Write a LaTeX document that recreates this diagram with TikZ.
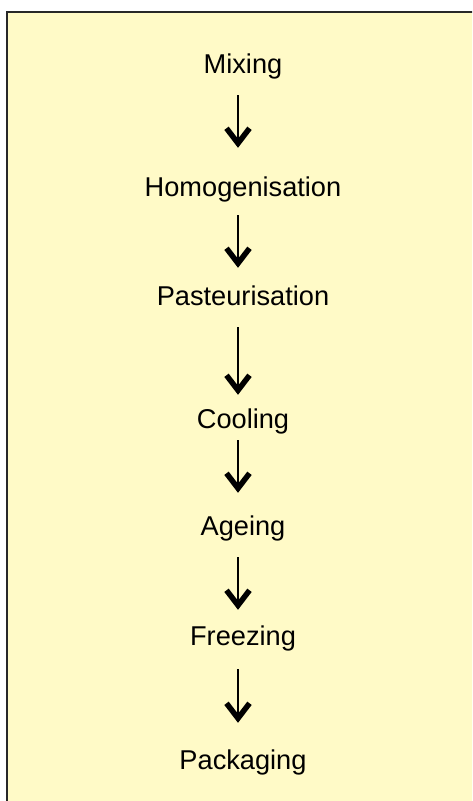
\documentclass[tikz,border=0pt]{standalone}
\usepackage{fontspec}
\setmainfont{Liberation Sans}
\usepackage{xcolor}
\usetikzlibrary{arrows.meta}
\definecolor{paper}{RGB}{255,250,199}
\definecolor{frame}{RGB}{40,40,40}

\begin{document}
\begin{tikzpicture}[x=1pt, y=-1pt,
    stage/.style={anchor=base, inner sep=0pt, text height=19.5pt, text depth=6.5pt,
        font=\fontsize{27.2}{31}\selectfont},
    flow/.style={line width=2.2pt, -{Straight Barb[length=15pt, width=23pt, line width=5.5pt, line join=miter]}}]
            \useasboundingbox (0,0) rectangle (472,801);
            \clip (0,0) rectangle (472,801);
            % Background
            \fill[paper] (7,12) rectangle (480,810);
            \draw[frame, line width=2pt] (7,810) -- (7,12) -- (480,12);
            
            % Stages
            \node[stage] (mixing) at (243,73) {Mixing};
            \node[stage] (homog) at (243,196) {Homogenisation};
            \node[stage] (pasteur) at (243,305) {Pasteurisation};
            \node[stage] (cooling) at (243,428) {Cooling};
            \node[stage] (ageing) at (243,535) {Ageing};
            \node[stage] (freezing) at (243,645) {Freezing};
            \node[stage] (packaging) at (243,769) {Packaging};
            
            % Arrows
            \coordinate (ax) at (238,0);
            \draw[flow, shorten <=15.5pt, shorten >=28.5pt] (mixing.south -| ax) -- (homog.north -| ax);
            \draw[flow, shorten <=12.5pt, shorten >=17.5pt] (homog.south -| ax) -- (pasteur.north -| ax);
            \draw[flow, shorten <=15.5pt, shorten >=13.5pt] (pasteur.south -| ax) -- (cooling.north -| ax);
            \draw[flow, shorten <=5.5pt, shorten >=22.5pt] (cooling.south -| ax) -- (ageing.north -| ax);
            \draw[flow, shorten <=15.5pt, shorten >=15.5pt] (ageing.south -| ax) -- (freezing.north -| ax);
            \draw[flow, shorten <=17.5pt, shorten >=26.5pt] (freezing.south -| ax) -- (packaging.north -| ax);
        \end{tikzpicture}
\end{document}
